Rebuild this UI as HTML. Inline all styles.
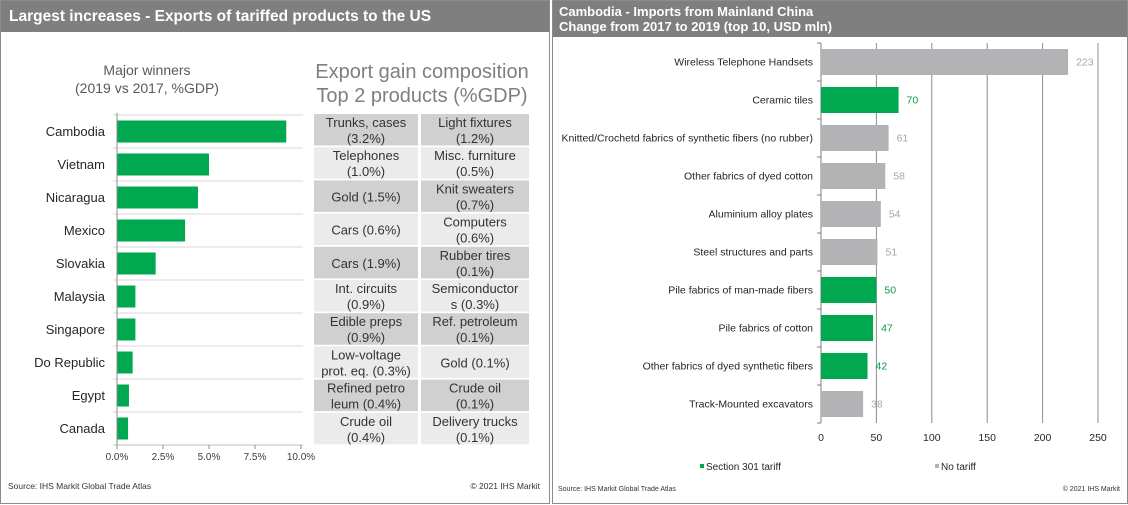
<!DOCTYPE html>
<html><head><meta charset="utf-8"><style>
body{margin:0;width:1128px;height:505px;background:#fff;font-family:"Liberation Sans",sans-serif;overflow:hidden;position:relative}
.panel{position:absolute;border:1px solid #8c8c8c;box-sizing:border-box;background:#fff}
.hdr{position:absolute;left:0;top:0;right:0;background:#7f7f7f;color:#fff;font-weight:bold}
</style></head><body>
<div class="panel" style="left:0;top:0;width:550px;height:504px">
 <div class="hdr" style="height:31px;font-size:15.5px;line-height:31px;padding-left:8px">Largest increases - Exports of tariffed products to the US</div>
</div>
<div class="panel" style="left:552px;top:0;width:576px;height:504px">
 <div class="hdr" style="height:36px;font-size:13px;line-height:15px;padding:3px 0 0 6px;box-sizing:border-box">Cambodia - Imports from Mainland China<br>Change from 2017 to 2019 (top 10, USD mln)</div>
</div>
<svg id="svg" width="1128" height="505" style="position:absolute;left:0;top:0" font-family="Liberation Sans, sans-serif"></svg>
<script>
const leftCats=["Cambodia","Vietnam","Nicaragua","Mexico","Slovakia","Malaysia","Singapore","Do Republic","Egypt","Canada"];
const leftVals=[9.2,5.0,4.4,3.7,2.1,1.0,1.0,0.85,0.65,0.6];
const leftTicks=[0,2.5,5,7.5,10];
const leftTickLabels=["0.0%","2.5%","5.0%","7.5%","10.0%"];
const tableCol1=[["Trunks, cases","(3.2%)"],["Telephones","(1.0%)"],["Gold (1.5%)"],["Cars (0.6%)"],["Cars (1.9%)"],["Int. circuits","(0.9%)"],["Edible preps","(0.9%)"],["Low-voltage","prot. eq. (0.3%)"],["Refined petro","leum (0.4%)"],["Crude oil","(0.4%)"]];
const tableCol2=[["Light fixtures","(1.2%)"],["Misc. furniture","(0.5%)"],["Knit sweaters","(0.7%)"],["Computers","(0.6%)"],["Rubber tires","(0.1%)"],["Semiconductor","s (0.3%)"],["Ref. petroleum","(0.1%)"],["Gold (0.1%)"],["Crude oil","(0.1%)"],["Delivery trucks","(0.1%)"]];
const rightCats=["Wireless Telephone Handsets","Ceramic tiles","Knitted/Crochetd fabrics of synthetic fibers (no rubber)","Other fabrics of dyed cotton","Aluminium alloy plates","Steel structures and parts","Pile fabrics of man-made fibers","Pile fabrics of cotton","Other fabrics of dyed synthetic fibers","Track-Mounted excavators"];
const rightVals=[223,70,61,58,54,51,50,47,42,38];
const rightTariff=[false,true,false,false,false,false,true,true,true,false];
const rightTicks=[0,50,100,150,200,250];

const svg=document.getElementById('svg');
const NS="http://www.w3.org/2000/svg";
function mk(tag,at,txt){const e=document.createElementNS(NS,tag);for(const k in at)e.setAttribute(k,at[k]);if(txt!==undefined)e.textContent=txt;svg.appendChild(e);return e;}
const GREEN="#00a84f",GRAY="#b3b3b5";

let t=mk('text',{x:147,y:75,'text-anchor':'middle','font-size':14,fill:'#595959'},'Major winners');


t=mk('text',{x:147,y:93,'text-anchor':'middle','font-size':14,fill:'#595959'},'(2019 vs 2017, %GDP)');


t=mk('text',{x:422,y:78,'text-anchor':'middle','font-size':20,fill:'#7f7f7f'},'Export gain composition');


t=mk('text',{x:422,y:102,'text-anchor':'middle','font-size':20,fill:'#7f7f7f'},'Top 2 products (%GDP)');



const lx0=117,lx1=301,ly0=115,lrow=33;
const lxs=v=>lx0+(v-leftTicks[0])/(leftTicks[leftTicks.length-1]-leftTicks[0])*(lx1-lx0);
for(let i=0;i<=leftCats.length;i++){
 const y=ly0+i*lrow;
 const l=mk('line',{x1:lx0-4,x2:lx1+2,y1:y,y2:y,stroke:i==leftCats.length?'#bfbfbf':'#d9d9d9','stroke-width':1});
 
 
}
leftCats.forEach((c,i)=>{
 const cy=ly0+i*lrow+lrow/2;
 const r=mk('rect',{x:lx0,y:cy-11,width:lxs(leftVals[i])-lx0,height:22,fill:GREEN});
 
 
 const tx=mk('text',{x:105,y:cy+4.5,'text-anchor':'end','font-size':13,fill:'#262626'},c);
 
 
});
let ax=mk('line',{x1:lx0,x2:lx0,y1:ly0-2,y2:ly0+lrow*10,stroke:'#8c8c8c'});


leftTicks.forEach((v,i)=>{
 const x=lxs(v);
 const tk=mk('line',{x1:x,x2:x,y1:ly0+lrow*10,y2:ly0+lrow*10+4,stroke:'#8c8c8c'});
 
 
 const tl=mk('text',{x:x,y:460,'text-anchor':'middle','font-size':10,fill:'#404040'},leftTickLabels[i]);
 
 
});

const tx0=[314,421],tw=[104,108];
[tableCol1,tableCol2].forEach((col,ci)=>{
 col.forEach((lines,ri)=>{
  const y=114+ri*33.2;
  const r=mk('rect',{x:tx0[ci],y:y,width:tw[ci],height:31.5,fill:ri%2==0?'#d0d0d0':'#ebebeb'});
  
  
  const cx=tx0[ci]+tw[ci]/2;
  lines.forEach((s,li)=>{
   const yy=lines.length==1?y+21:y+13+li*16;
   const tt=mk('text',{x:cx,y:yy,'text-anchor':'middle','font-size':13,fill:'#333'},s);
   
   
  });
 });
});
t=mk('text',{x:8,y:489,'font-size':8.5,fill:'#333'},'Source: IHS Markit Global Trade Atlas');


t=mk('text',{x:540,y:489,'text-anchor':'end','font-size':8.5,fill:'#333'},'© 2021 IHS Markit');



const rx0=821,rx1=1098,ry0=43,rrow=38;
const rxs=v=>rx0+(v-rightTicks[0])/(rightTicks[rightTicks.length-1]-rightTicks[0])*(rx1-rx0);
rightTicks.forEach(v=>{
 const x=rxs(v);
 const g=mk('line',{x1:x,x2:x,y1:ry0,y2:ry0+rrow*10,stroke:v==0?'#7f7f7f':'#8c8c8c','stroke-width':1});
 
 
 const tl=mk('text',{x:x,y:441,'text-anchor':'middle','font-size':10.5,fill:'#262626'},String(v));
 
 
});
for(let i=0;i<=10;i++){
 const tk=mk('line',{x1:rx0-4,x2:rx0,y1:ry0+i*rrow,y2:ry0+i*rrow,stroke:'#7f7f7f'});
 
 
}
rightCats.forEach((c,i)=>{
 const cy=ry0+i*rrow+rrow/2;
 const col=rightTariff[i]?GREEN:GRAY;
 const r=mk('rect',{x:rx0,y:cy-13,width:rxs(rightVals[i])-rx0,height:26,fill:col});
 
 
 const l=mk('text',{x:813,y:cy+3.5,'text-anchor':'end','font-size':10.5,fill:'#262626'},c);
 
 
 const v=mk('text',{x:rxs(rightVals[i])+8,y:cy+3.5,'font-size':10.5,fill:rightTariff[i]?'#00a04a':'#a6a6a6'},String(rightVals[i]));
 
 
});
let lg=mk('rect',{x:700,y:464,width:4,height:4,fill:GREEN});


t=mk('text',{x:706,y:470,'font-size':10,fill:'#262626'},'Section 301 tariff');


lg=mk('rect',{x:935,y:464,width:4,height:4,fill:GRAY});


t=mk('text',{x:941,y:470,'font-size':10,fill:'#262626'},'No tariff');


t=mk('text',{x:558,y:491,'font-size':7,fill:'#333'},'Source: IHS Markit Global Trade Atlas');


t=mk('text',{x:1120,y:491,'text-anchor':'end','font-size':7,fill:'#333'},'© 2021 IHS Markit');


</script>
</body></html>
